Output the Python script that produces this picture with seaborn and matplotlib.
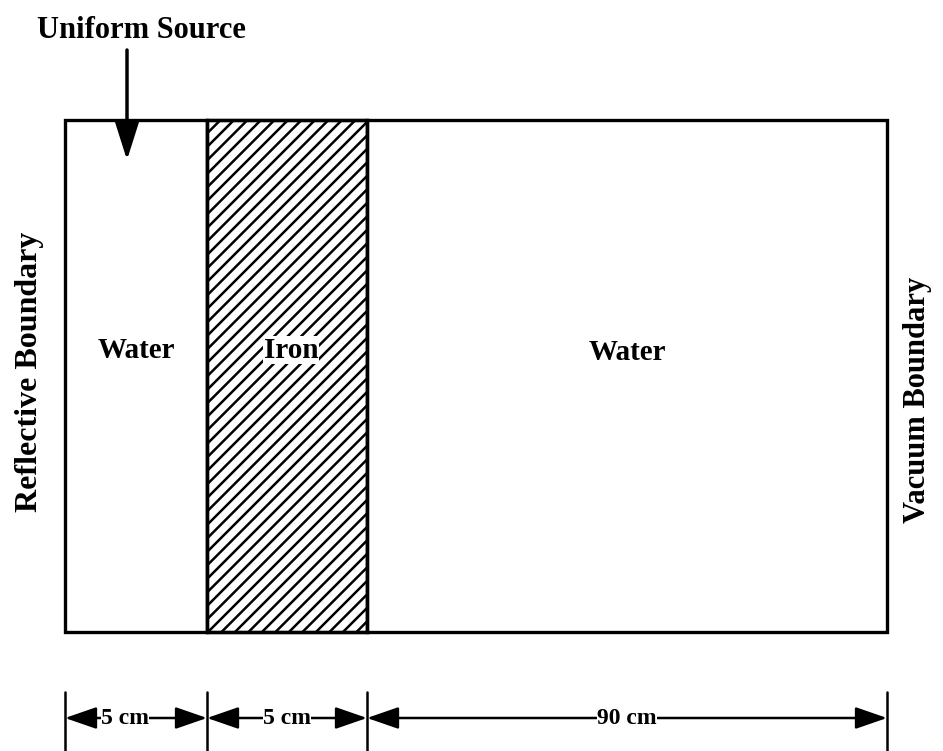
import numpy as np
import seaborn as sns
import matplotlib.pyplot as plt
from matplotlib.patches import Rectangle

# slab problem data
regions = ["Water", "Iron", "Water"]
thickness_cm = [5, 5, 90]
hatched = [False, True, False]
source_label = "Uniform Source"
left_boundary = "Reflective Boundary"
right_boundary = "Vacuum Boundary"

# drawing layout (schematic, not to scale) in pixel units
x0 = 65
drawn_w = [142, 160, 520]
box_top, box_bot = 120, 632
dim_y = 718

sns.set_style("white")
plt.rcParams['font.family'] = ['Liberation Serif', 'DejaVu Serif']
plt.rcParams['font.weight'] = 'bold'
plt.rcParams['text.color'] = 'black'

fig = plt.figure(figsize=(9.43, 7.51), dpi=100)
ax = fig.add_axes([0, 0, 1, 1])
ax.set_xlim(0, 943)
ax.set_ylim(751, 0)
ax.axis("off")

lefts = x0 + np.concatenate([[0], np.cumsum(drawn_w)[:-1]])
rights = lefts + np.array(drawn_w)
mid_y = (box_top + box_bot) / 2

bars = ax.barh(mid_y, drawn_w, left=lefts, height=box_bot - box_top,
               color="white", edgecolor="black", linewidth=2.4, zorder=2)

# hatching drawn by hand so spacing matches
for bar, h in zip(bars, hatched):
    if not h:
        continue
    xl, xr = bar.get_x(), bar.get_x() + bar.get_width()
    clip = Rectangle((xl, box_top), xr - xl, box_bot - box_top, transform=ax.transData)
    for c in np.arange(xl + box_top, xr + box_bot + 14, 13.5):
        ln, = ax.plot([xl - 20, xr + 20], [c - xl + 20, c - xr - 20],
                      color="black", lw=1.8, zorder=3)
        ln.set_clip_path(clip)
    ax.add_patch(Rectangle((xl, box_top), xr - xl, box_bot - box_top,
                           fill=False, edgecolor="black", lw=2.4, zorder=4))

# region labels
label_y = [350, 350, 352]
for name, l, r, y in zip(regions, lefts, rights, label_y):
    ax.text((l + r) / 2 + (4 if name == "Iron" else 0), y, name, ha="center", va="center",
            fontsize=21, fontweight="bold", color="black", zorder=5,
            bbox=dict(facecolor="white", edgecolor="none", pad=0.5))

# source
ax.text(141, 30, source_label, ha="center", va="center", fontsize=22,
        fontweight="bold", color="black")
ax.annotate("", xy=(127, 160), xytext=(127, 50),
            arrowprops=dict(arrowstyle="-|>,head_length=1.2,head_width=0.38",
                            mutation_scale=20, lw=2.5, color="black",
                            shrinkA=0, shrinkB=0), zorder=6)

# boundaries
ax.text(30, 372, left_boundary, rotation=90, ha="center", va="center",
        fontsize=23, fontweight="bold", color="black")
ax.text(918, 400, right_boundary, rotation=90, ha="center", va="center",
        fontsize=22, fontweight="bold", color="black")

# dimension lines
edges = np.concatenate([[lefts[0]], rights])
for e in edges:
    ax.plot([e, e], [692, 751], color="black", lw=1.8)
for t, l, r in zip(thickness_cm, lefts, rights):
    ax.annotate("", xy=(r, dim_y), xytext=(l, dim_y),
                arrowprops=dict(arrowstyle="<|-|>,head_length=1.3,head_width=0.45",
                                mutation_scale=15, lw=1.8, color="black",
                                shrinkA=0, shrinkB=0))
    ax.text((l + r) / 2 - (11 if t == 5 and l == lefts[0] else 0), dim_y, f"{t} cm",
            ha="center", va="center", fontsize=17, fontweight="bold", color="black",
            bbox=dict(facecolor="white", edgecolor="none", pad=0.3))

fig.savefig("out.png", dpi=100)
